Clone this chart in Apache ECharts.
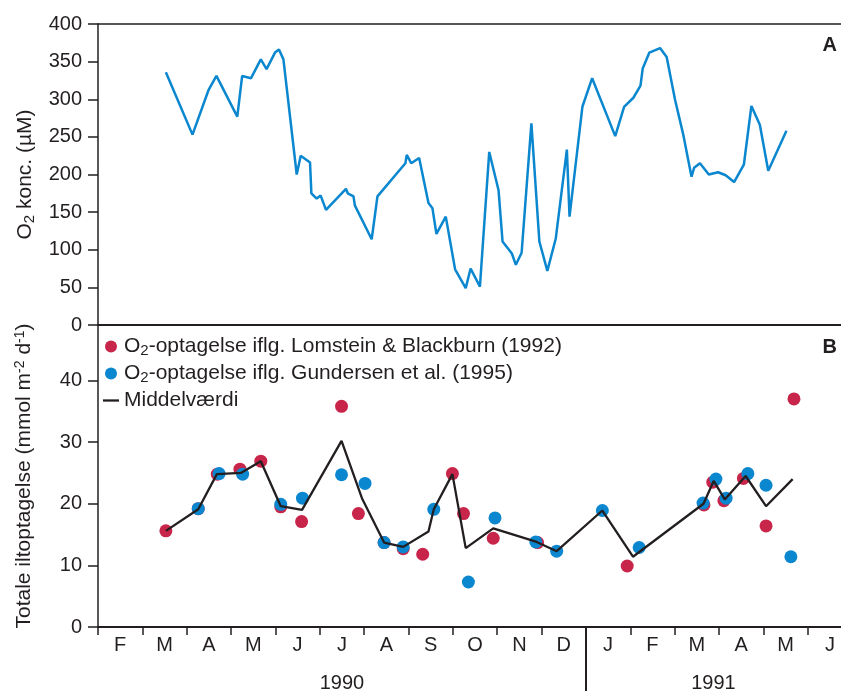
<!DOCTYPE html>
<html>
<head>
<meta charset="utf-8">
<script src="https://cdn.jsdelivr.net/npm/echarts@6/dist/echarts.min.js"></script>
<style>
  html, body { margin: 0; padding: 0; background: #fff; }
  #chart { width: 841px; height: 693px; }
</style>
</head>
<body>
<div id="chart"></div>
<script>
// Time axis is in months counted from 1 February 1990 (0 = Feb 1990, 11 = Jan 1991).
const MONTHS = ['F', 'M', 'A', 'M', 'J', 'J', 'A', 'S', 'O', 'N', 'D', 'J', 'F', 'M', 'A', 'M', 'J'];
const YEARS = ['1990', '1991'];
const YEAR_CENTERS = [5.5, 13.875];
const YEAR_BREAK = 11;
const X_MAX = 16.75;

// Panel A: bottom-water O2 concentration (µM)
const o2Conc = [
  [1.53, 336], [2.13, 253], [2.49, 312], [2.67, 331], [3.14, 277], [3.25, 331],
  [3.45, 328], [3.67, 353], [3.80, 340], [3.99, 362], [4.08, 366], [4.18, 353],
  [4.48, 200], [4.57, 225], [4.78, 216], [4.81, 175], [4.93, 168], [5.02, 172],
  [5.14, 153], [5.59, 181], [5.63, 175], [5.76, 171], [5.79, 159], [6.17, 114],
  [6.30, 171], [6.93, 215], [6.96, 226], [7.06, 215], [7.24, 222], [7.45, 162],
  [7.54, 155], [7.63, 121], [7.84, 144], [8.05, 74], [8.29, 49], [8.40, 75],
  [8.61, 51], [8.82, 230], [9.03, 179], [9.12, 111], [9.33, 95], [9.42, 80],
  [9.55, 96], [9.77, 268], [9.95, 111], [10.13, 72], [10.32, 115], [10.57, 233],
  [10.63, 144], [10.92, 290], [11.14, 328], [11.66, 251], [11.86, 290], [12.07, 302],
  [12.23, 318], [12.28, 341], [12.43, 362], [12.67, 368], [12.82, 356], [13.01, 299],
  [13.19, 254], [13.38, 197], [13.44, 209], [13.57, 215], [13.77, 200], [13.98, 203],
  [14.15, 199], [14.34, 190], [14.56, 213], [14.73, 291], [14.92, 266], [15.11, 205],
  [15.52, 258]
];

// Panel B: total O2 uptake (mmol m-2 d-1)
const lomstein = [
  [1.53, 15.6], [2.26, 19.2], [2.69, 24.8], [3.20, 25.6], [3.67, 26.9], [4.12, 19.5],
  [4.59, 17.1], [5.49, 35.8], [5.87, 18.4], [6.45, 13.7], [6.88, 12.7], [7.32, 11.8],
  [7.99, 24.9], [8.24, 18.4], [8.91, 14.4], [9.91, 13.7], [11.93, 9.9], [13.66, 19.8],
  [13.86, 23.5], [14.11, 20.5], [14.55, 24.1], [15.06, 16.4], [15.69, 37.0]
];
const gundersen = [
  [2.26, 19.2], [2.73, 24.9], [3.26, 24.8], [4.12, 19.9], [4.61, 20.9], [5.49, 24.7],
  [6.02, 23.3], [6.45, 13.7], [6.88, 13.0], [7.57, 19.1], [8.35, 7.3], [8.95, 17.7],
  [9.87, 13.8], [10.34, 12.3], [11.37, 18.9], [12.20, 12.9], [13.64, 20.1], [13.93, 24.0],
  [14.16, 20.9], [14.65, 24.9], [15.06, 23.0], [15.62, 11.4]
];
const middel = [
  [1.53, 15.6], [2.26, 19.1], [2.68, 24.8], [3.22, 25.0], [3.67, 26.9], [4.12, 19.6],
  [4.60, 19.0], [5.49, 30.2], [5.95, 20.9], [6.45, 13.7], [6.88, 13.0], [7.45, 15.5],
  [7.57, 19.1], [7.99, 24.8], [8.29, 12.8], [8.91, 16.0], [9.89, 13.8], [10.34, 12.3],
  [11.37, 18.9], [12.06, 11.4], [13.65, 20.0], [13.88, 23.7], [14.13, 20.7], [14.60, 24.5],
  [15.06, 19.6], [15.66, 24.0]
];

const TICKS_A = [0, 50, 100, 150, 200, 250, 300, 350, 400];
const TICKS_B = [0, 10, 20, 30, 40];

const NAME_LOM = 'O2-optagelse iflg. Lomstein & Blackburn (1992)';
const NAME_GUN = 'O2-optagelse iflg. Gundersen et al. (1995)';
const NAME_MEAN = 'Middelværdi';

const FONT = '"Liberation Sans", Arial, Helvetica, sans-serif';
const INK = '#231f20';
const RED = '#c8254a';
const BLUE = '#0a87cf';

const richText = {
  sub: { fontFamily: FONT, fontSize: 15, color: INK, padding: [8, 0, 0, 0] },
  sup: { fontFamily: FONT, fontSize: 14, color: INK, padding: [0, 0, 8, 0] }
};

const monthStarts = MONTHS.map((_, i) => i);
const monthMids = MONTHS.map((_, i) => i + 0.5);

const lineOnlyX = (gridIndex, position, width) => ({
  gridIndex, type: 'value', min: 0, max: X_MAX, position,
  axisLine: { show: true, onZero: false, lineStyle: { color: INK, width } },
  axisTick: { show: false }, axisLabel: { show: false }, splitLine: { show: false }
});

const yAxisBase = (gridIndex, max, ticks, name, gap) => ({
  gridIndex, type: 'value', min: 0, max,
  axisLine: { show: true, onZero: false, lineStyle: { color: INK, width: 1.5 } },
  axisTick: { show: true, customValues: ticks, length: 10, lineStyle: { color: INK, width: 1.5 } },
  axisLabel: { customValues: ticks, fontSize: 20, color: INK, margin: 16, fontFamily: FONT },
  splitLine: { show: false },
  name, nameLocation: 'middle', nameGap: gap,
  nameTextStyle: { fontSize: 21, color: INK, fontFamily: FONT, rich: richText }
});

const chart = echarts.init(document.getElementById('chart'), null, { renderer: 'canvas' });

chart.setOption({
  animation: false,
  backgroundColor: '#fff',
  textStyle: { fontFamily: FONT, color: INK },
  title: [
    { text: 'A', right: 4, top: 35, padding: 0, textStyle: { fontSize: 20, fontWeight: 'bold', color: INK, fontFamily: FONT } },
    { text: 'B', right: 4, top: 337, padding: 0, textStyle: { fontSize: 20, fontWeight: 'bold', color: INK, fontFamily: FONT } }
  ],
  grid: [
    { left: 98, top: 24, width: 743, height: 301 },
    { left: 98, top: 325, width: 743, height: 302 }
  ],
  legend: {
    left: 103, top: 336, orient: 'vertical', itemGap: 5, padding: 0,
    itemWidth: 16, itemHeight: 12,
    data: [
      { name: NAME_LOM },
      { name: NAME_GUN },
      { name: NAME_MEAN, icon: 'path://M0,0 L16,0 L16,2.3 L0,2.3 Z' }
    ],
    formatter: n => n.replace('O2', 'O{sub|2}'),
    textStyle: { fontSize: 21, color: INK, fontFamily: FONT, rich: richText }
  },
  xAxis: [
    lineOnlyX(0, 'top', 1.5),
    lineOnlyX(0, 'bottom', 2),
    {
      gridIndex: 1, type: 'value', min: 0, max: X_MAX, position: 'bottom',
      axisLine: { show: true, onZero: false, lineStyle: { color: INK, width: 2 } },
      axisTick: { show: true, customValues: monthStarts, length: 8, lineStyle: { color: INK, width: 1.5 } },
      axisLabel: {
        customValues: monthMids, fontSize: 20, color: INK, margin: 8, fontFamily: FONT,
        formatter: v => MONTHS[Math.floor(v)]
      },
      splitLine: { show: false }
    },
    {
      gridIndex: 1, type: 'value', min: 0, max: X_MAX, position: 'bottom',
      axisLine: { show: false },
      axisTick: { show: true, customValues: [YEAR_BREAK], length: 64, lineStyle: { color: INK, width: 2 } },
      axisLabel: {
        customValues: YEAR_CENTERS, fontSize: 20, color: INK, margin: 46, fontFamily: FONT,
        formatter: v => YEARS[v < YEAR_BREAK ? 0 : 1]
      },
      splitLine: { show: false }
    }
  ],
  yAxis: [
    yAxisBase(0, 400, TICKS_A, 'O{sub|2} konc. (µM)', 61),
    yAxisBase(1, 49, TICKS_B, 'Totale iltoptagelse (mmol m{sup|-2} d{sup|-1})', 63)
  ],
  series: [
    {
      name: 'O2 konc.', type: 'line', xAxisIndex: 1, yAxisIndex: 0, data: o2Conc,
      symbol: 'none', lineStyle: { color: BLUE, width: 2.5 }, itemStyle: { color: BLUE }
    },
    {
      name: NAME_MEAN, type: 'line', xAxisIndex: 2, yAxisIndex: 1, data: middel,
      symbol: 'none', lineStyle: { color: INK, width: 2.3 }, itemStyle: { color: INK }
    },
    {
      name: NAME_LOM, type: 'scatter', xAxisIndex: 2, yAxisIndex: 1, data: lomstein,
      symbol: 'circle', symbolSize: 13, itemStyle: { color: RED, opacity: 1 }
    },
    {
      name: NAME_GUN, type: 'scatter', xAxisIndex: 2, yAxisIndex: 1, data: gundersen,
      symbol: 'circle', symbolSize: 13, itemStyle: { color: BLUE, opacity: 1 }
    }
  ]
});
</script>
</body>
</html>
